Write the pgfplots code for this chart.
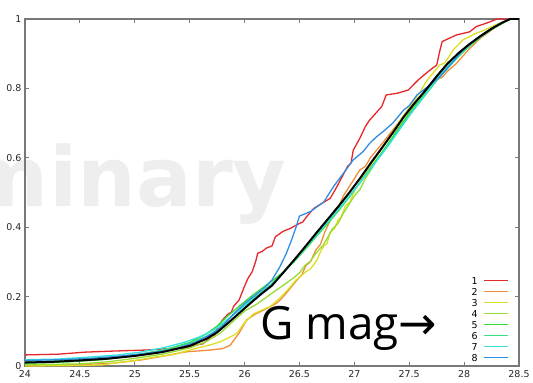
\documentclass[border=0pt]{standalone}
\usepackage{fontspec}
\setmainfont{DejaVu Sans}
\newfontfamily\wmfont{DejaVu Sans}
\newfontfamily\bigfont{Open Sans}
\newfontfamily\arrowfont{DejaVu Sans}
\usepackage{pgfplots}
\pgfplotsset{compat=1.18}

\definecolor{framegray}{RGB}{120,120,120}
\definecolor{wmgray}{RGB}{238,238,238}
\definecolor{c1}{RGB}{230,40,44}
\definecolor{c2}{RGB}{240,140,60}
\definecolor{c3}{RGB}{222,222,36}
\definecolor{c4}{RGB}{150,220,50}
\definecolor{c5}{RGB}{50,220,50}
\definecolor{c6}{RGB}{60,225,130}
\definecolor{c7}{RGB}{50,225,225}
\definecolor{c8}{RGB}{50,140,225}

\begin{document}
\begin{tikzpicture}[x=1bp,y=1bp]
% faint watermark behind the data
\node[anchor=base east, inner sep=0pt, text=wmgray,
      font=\wmfont\bfseries\fontsize{83}{83}\selectfont] at (262,160) {Preliminary};

\begin{axis}[
  at={(0,0)}, anchor=south west,
  scale only axis, width=494bp, height=347bp,
  xmin=24, xmax=28.5, ymin=0, ymax=1,
  xtick={24,24.5,25,25.5,26,26.5,27,27.5,28,28.5},
  ytick={0,0.2,0.4,0.6,0.8,1},
  tick align=inside, major tick length=4bp,
  axis line style={framegray, line width=1.2bp},
  every tick/.style={framegray, line width=1bp},
  /pgf/number format/assume math mode=true,
  tick label style={font=\fontsize{9.5}{10}\selectfont, text=black!85},
  xticklabel style={yshift=-1bp},
  legend cell align=right,
  legend plot pos=right,
  legend image code/.code={\draw[#1] (0bp,0bp) -- (24bp,0bp);},
  legend style={at={(rel axis cs:1,0)}, anchor=south east,
    xshift=-10bp, yshift=5bp, draw=none, fill=none,
    inner sep=0pt, outer sep=0pt, row sep=4bp, column sep=6bp,
    font=\fontsize{9.5}{10}\selectfont,
    nodes={inner sep=0pt, text height=7bp, text depth=0pt}},
  every axis plot/.append style={line width=1.3bp},
]
% 1
\addplot[c1] coordinates {(24.00,0.032) (24.30,0.034) (24.55,0.040) (24.80,0.043) (25.10,0.046) (25.30,0.050) (25.45,0.052) (25.55,0.060) (25.62,0.064) (25.65,0.072) (25.70,0.086) (25.73,0.090) (25.75,0.110) (25.80,0.133) (25.85,0.150) (25.88,0.155) (25.90,0.172) (25.95,0.190) (26.00,0.230) (26.03,0.252) (26.07,0.272) (26.10,0.300) (26.12,0.325) (26.16,0.330) (26.20,0.340) (26.25,0.346) (26.28,0.372) (26.35,0.388) (26.42,0.397) (26.50,0.411) (26.53,0.415) (26.57,0.432) (26.63,0.454) (26.70,0.468) (26.78,0.483) (26.82,0.505) (26.85,0.522) (26.90,0.552) (26.94,0.576) (26.97,0.585) (26.99,0.622) (27.05,0.656) (27.10,0.690) (27.14,0.709) (27.20,0.730) (27.25,0.748) (27.29,0.781) (27.39,0.786) (27.49,0.795) (27.58,0.824) (27.69,0.853) (27.75,0.867) (27.78,0.910) (27.80,0.935) (27.93,0.954) (28.05,0.963) (28.11,0.978) (28.22,0.990) (28.30,1.0) (28.5,1.0)};
\addlegendentry{1}
% 2
\addplot[c2] coordinates {(24.00,0.003) (24.50,0.004) (24.80,0.008) (25.05,0.017) (25.25,0.028) (25.47,0.041) (25.65,0.045) (25.80,0.050) (25.87,0.060) (25.95,0.095) (26.02,0.133) (26.10,0.150) (26.20,0.165) (26.29,0.181) (26.33,0.192) (26.38,0.210) (26.47,0.245) (26.52,0.262) (26.56,0.290) (26.60,0.300) (26.65,0.335) (26.69,0.350) (26.73,0.385) (26.78,0.420) (26.82,0.450) (26.86,0.462) (26.90,0.490) (27.00,0.540) (27.05,0.565) (27.10,0.575) (27.15,0.602) (27.25,0.640) (27.35,0.680) (27.45,0.720) (27.55,0.755) (27.65,0.790) (27.75,0.825) (27.80,0.832) (27.85,0.850) (27.93,0.872) (28.05,0.915) (28.15,0.945) (28.28,0.975) (28.42,1.0) (28.5,1.0)};
\addlegendentry{2}
% 3
\addplot[c3] coordinates {(24.00,0.000) (24.40,0.001) (24.70,0.003) (24.85,0.010) (25.00,0.016) (25.17,0.025) (25.35,0.033) (25.56,0.051) (25.70,0.062) (25.78,0.070) (25.86,0.082) (25.93,0.094) (26.00,0.125) (26.08,0.150) (26.15,0.160) (26.23,0.171) (26.32,0.195) (26.40,0.222) (26.47,0.248) (26.56,0.272) (26.60,0.280) (26.66,0.305) (26.69,0.328) (26.72,0.345) (26.75,0.352) (26.78,0.385) (26.82,0.396) (26.85,0.420) (26.88,0.430) (26.92,0.462) (26.96,0.472) (27.00,0.505) (27.10,0.555) (27.20,0.603) (27.30,0.650) (27.40,0.700) (27.50,0.745) (27.60,0.790) (27.66,0.822) (27.70,0.838) (27.78,0.868) (27.82,0.872) (27.86,0.890) (27.90,0.911) (27.99,0.940) (28.11,0.959) (28.17,0.966) (28.30,0.985) (28.42,1.0) (28.5,1.0)};
\addlegendentry{3}
% 4
\addplot[c4] coordinates {(24.00,0.004) (24.50,0.006) (24.75,0.012) (25.00,0.022) (25.25,0.034) (25.50,0.052) (25.65,0.070) (25.78,0.095) (25.90,0.130) (26.00,0.158) (26.12,0.180) (26.25,0.210) (26.35,0.232) (26.45,0.255) (26.50,0.268) (26.55,0.290) (26.60,0.302) (26.65,0.325) (26.72,0.350) (26.76,0.372) (26.80,0.395) (26.85,0.410) (26.90,0.440) (27.00,0.490) (27.05,0.508) (27.10,0.540) (27.20,0.590) (27.30,0.635) (27.40,0.685) (27.50,0.730) (27.60,0.770) (27.70,0.810) (27.80,0.848) (27.90,0.880) (28.00,0.910) (28.10,0.935) (28.20,0.960) (28.30,0.980) (28.42,1.0) (28.5,1.0)};
\addlegendentry{4}
% 5
\addplot[c5] coordinates {(24.00,0.008) (24.40,0.012) (24.70,0.018) (25.00,0.030) (25.25,0.044) (25.50,0.068) (25.65,0.092) (25.75,0.115) (25.85,0.145) (25.95,0.172) (26.05,0.198) (26.15,0.222) (26.25,0.245) (26.35,0.270) (26.45,0.300) (26.55,0.335) (26.65,0.372) (26.75,0.408) (26.85,0.445) (26.95,0.485) (27.05,0.528) (27.15,0.572) (27.25,0.615) (27.35,0.660) (27.45,0.705) (27.55,0.748) (27.65,0.788) (27.75,0.828) (27.85,0.862) (27.95,0.895) (28.05,0.925) (28.15,0.950) (28.25,0.970) (28.35,0.988) (28.42,1.0) (28.5,1.0)};
\addlegendentry{5}
% 6
\addplot[c6] coordinates {(24.00,0.012) (24.40,0.016) (24.70,0.022) (25.00,0.032) (25.25,0.046) (25.50,0.066) (25.65,0.085) (25.75,0.104) (25.85,0.135) (25.95,0.162) (26.05,0.188) (26.15,0.212) (26.25,0.238) (26.35,0.270) (26.45,0.304) (26.55,0.340) (26.65,0.377) (26.75,0.412) (26.85,0.450) (26.95,0.488) (27.05,0.528) (27.15,0.570) (27.25,0.612) (27.35,0.655) (27.45,0.700) (27.55,0.742) (27.65,0.782) (27.75,0.822) (27.85,0.858) (27.95,0.892) (28.05,0.922) (28.15,0.948) (28.25,0.970) (28.35,0.990) (28.42,1.0) (28.5,1.0)};
\addlegendentry{6}
% 7
\addplot[c7] coordinates {(24.00,0.018) (24.30,0.020) (24.60,0.026) (24.85,0.032) (25.05,0.040) (25.25,0.052) (25.45,0.068) (25.60,0.085) (25.72,0.104) (25.82,0.128) (25.92,0.152) (26.02,0.178) (26.12,0.203) (26.22,0.228) (26.32,0.258) (26.42,0.292) (26.52,0.328) (26.62,0.365) (26.72,0.402) (26.82,0.438) (26.92,0.475) (27.02,0.515) (27.12,0.556) (27.22,0.598) (27.32,0.640) (27.42,0.685) (27.52,0.730) (27.62,0.772) (27.72,0.815) (27.82,0.852) (27.92,0.888) (28.02,0.918) (28.12,0.945) (28.22,0.966) (28.32,0.986) (28.42,1.0) (28.5,1.0)};
\addlegendentry{7}
% 8
\addplot[c8] coordinates {(24.00,0.016) (24.30,0.018) (24.60,0.022) (24.85,0.028) (25.10,0.036) (25.35,0.048) (25.55,0.068) (25.70,0.092) (25.80,0.115) (25.90,0.150) (26.00,0.180) (26.10,0.205) (26.18,0.225) (26.25,0.248) (26.32,0.285) (26.38,0.324) (26.43,0.365) (26.47,0.401) (26.50,0.432) (26.60,0.445) (26.66,0.459) (26.72,0.472) (26.76,0.492) (26.81,0.517) (26.90,0.555) (26.99,0.594) (27.08,0.618) (27.14,0.642) (27.20,0.660) (27.26,0.675) (27.35,0.700) (27.45,0.738) (27.50,0.750) (27.57,0.781) (27.69,0.810) (27.78,0.834) (27.88,0.870) (27.99,0.911) (28.10,0.940) (28.20,0.963) (28.32,0.985) (28.42,1.0) (28.5,1.0)};
\addlegendentry{8}
% combined distribution
\addplot[black, line width=2bp, forget plot] coordinates {(24.00,0.010) (24.25,0.012) (24.50,0.016) (24.75,0.021) (25.00,0.029) (25.25,0.040) (25.50,0.058) (25.65,0.078) (25.75,0.097) (25.85,0.124) (25.95,0.152) (26.05,0.180) (26.15,0.207) (26.25,0.232) (26.35,0.268) (26.45,0.305) (26.55,0.343) (26.65,0.382) (26.75,0.420) (26.85,0.458) (26.95,0.498) (27.05,0.540) (27.15,0.585) (27.25,0.628) (27.35,0.672) (27.45,0.718) (27.55,0.758) (27.65,0.795) (27.75,0.835) (27.85,0.872) (27.95,0.902) (28.05,0.928) (28.15,0.951) (28.25,0.972) (28.35,0.990) (28.42,1.0) (28.5,1.0)};
\end{axis}

\node[anchor=base west, inner sep=0pt, font=\bigfont\fontsize{46}{46}\selectfont]
  at (235,27) {G mag{\arrowfont →}};

\pgfresetboundingbox
\useasboundingbox (-25,-16) rectangle (508,366);
\end{tikzpicture}
\end{document}
